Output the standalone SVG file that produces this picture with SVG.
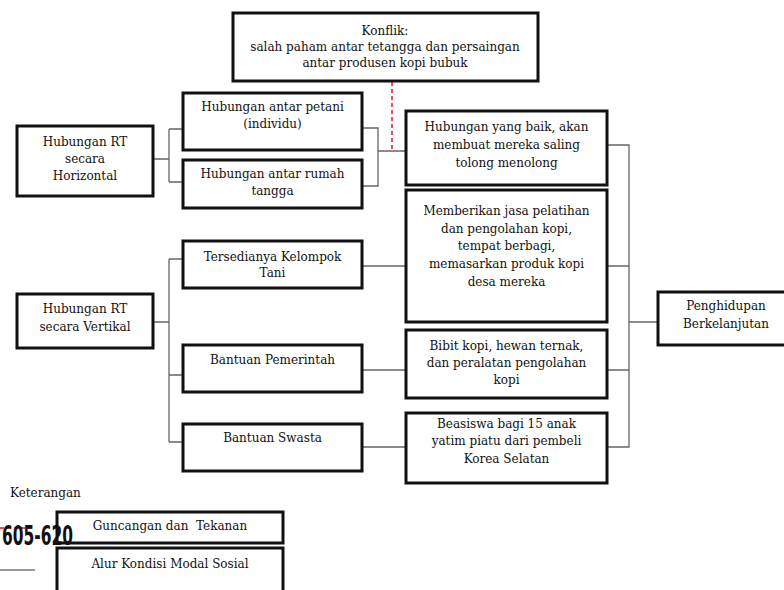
<svg xmlns="http://www.w3.org/2000/svg" width="784" height="590" viewBox="0 0 784 590">
<style>
.box{fill:#fff;stroke:#111;stroke-width:3}
.t{font-family:"DejaVu Serif","Liberation Serif",serif;font-size:12px;fill:#111;text-anchor:middle}
.l{text-anchor:start}
.c{fill:none;stroke:#666;stroke-width:1.3}
.red{fill:none;stroke:#e8141b;stroke-width:1.5;stroke-dasharray:4 3}
</style>
<rect width="784" height="590" fill="#fff"/>
<g id="connectors">
<path class="c" d="M153 159H169M169 129V182M169 129H183M169 182H183"/>
<path class="c" d="M362 128H378V186H362M378 151H406"/>
<path class="c" d="M153 322H169M169 259V442M169 259H183M169 375H183M169 442H183"/>
<path class="c" d="M362 266H406M362 370H406M362 447H406"/>
<path class="c" d="M607 145H629V447H607M607 266H629M607 370H629M629 322H658"/>
<path class="red" d="M392 82V150"/>
</g>
<g id="konflik">
<rect class="box" x="233" y="13" width="305" height="68"/>
<text class="t" x="385" y="35">Konflik:</text>
<text class="t" x="385" y="51">salah paham antar tetangga dan persaingan</text>
<text class="t" x="385" y="67">antar produsen kopi bubuk</text>
</g>
<g id="horizontal">
<rect class="box" x="17" y="126" width="136" height="70"/>
<text class="t" x="85" y="146">Hubungan RT</text>
<text class="t" x="85" y="163">secara</text>
<text class="t" x="85" y="180">Horizontal</text>
</g>
<g id="petani">
<rect class="box" x="183" y="93" width="179" height="57"/>
<text class="t" x="272.5" y="111">Hubungan antar petani</text>
<text class="t" x="272.5" y="128">(individu)</text>
</g>
<g id="rumahtangga">
<rect class="box" x="183" y="160" width="179" height="48"/>
<text class="t" x="272.5" y="178">Hubungan antar rumah</text>
<text class="t" x="272.5" y="195">tangga</text>
</g>
<g id="hubunganbaik">
<rect class="box" x="406" y="111" width="201" height="74"/>
<text class="t" x="506.5" y="131">Hubungan yang baik, akan</text>
<text class="t" x="506.5" y="149">membuat mereka saling</text>
<text class="t" x="506.5" y="167">tolong menolong</text>
</g>
<g id="vertikal">
<rect class="box" x="17" y="294" width="136" height="54"/>
<text class="t" x="85" y="313">Hubungan RT</text>
<text class="t" x="85" y="331">secara Vertikal</text>
</g>
<g id="kelompoktani">
<rect class="box" x="183" y="241" width="179" height="47"/>
<text class="t" x="272.5" y="261">Tersedianya Kelompok</text>
<text class="t" x="272.5" y="277">Tani</text>
</g>
<g id="pemerintah">
<rect class="box" x="183" y="345" width="179" height="47"/>
<text class="t" x="272.5" y="364">Bantuan Pemerintah</text>
</g>
<g id="swasta">
<rect class="box" x="183" y="424" width="179" height="47"/>
<text class="t" x="272.5" y="442">Bantuan Swasta</text>
</g>
<g id="pelatihan">
<rect class="box" x="406" y="190" width="201" height="132"/>
<text class="t" x="506.5" y="215">Memberikan jasa pelatihan</text>
<text class="t" x="506.5" y="233">dan pengolahan kopi,</text>
<text class="t" x="506.5" y="250">tempat berbagi,</text>
<text class="t" x="506.5" y="268">memasarkan produk kopi</text>
<text class="t" x="506.5" y="286">desa mereka</text>
</g>
<g id="bibit">
<rect class="box" x="406" y="330" width="201" height="68"/>
<text class="t" x="506.5" y="350">Bibit kopi, hewan ternak,</text>
<text class="t" x="506.5" y="367">dan peralatan pengolahan</text>
<text class="t" x="506.5" y="384">kopi</text>
</g>
<g id="beasiswa">
<rect class="box" x="406" y="413" width="201" height="70"/>
<text class="t" x="506.5" y="428">Beasiswa bagi 15 anak</text>
<text class="t" x="506.5" y="445">yatim piatu dari pembeli</text>
<text class="t" x="506.5" y="463">Korea Selatan</text>
</g>
<g id="penghidupan">
<rect class="box" x="658" y="292" width="140" height="53"/>
<text class="t" x="726" y="310">Penghidupan</text>
<text class="t" x="726" y="328">Berkelanjutan</text>
</g>
<g id="legend">
<text class="t l" x="10" y="497">Keterangan</text>
<path class="red" d="M0 528H35"/>
<path d="M0 570H35" stroke="#333" stroke-width="1.2"/>
<rect class="box" x="57" y="512" width="226" height="31"/>
<text class="t" x="170" y="530" style="white-space:pre">Guncangan dan  Tekanan</text>
<rect class="box" x="57" y="548" width="226" height="50"/>
<text class="t" x="170" y="568">Alur Kondisi Modal Sosial</text>
<text x="2" y="545" font-family="'Liberation Sans Narrow','DejaVu Sans Condensed',sans-serif" font-weight="bold" font-size="26" fill="#111" textLength="71" lengthAdjust="spacingAndGlyphs">605-620</text>
</g>
</svg>
